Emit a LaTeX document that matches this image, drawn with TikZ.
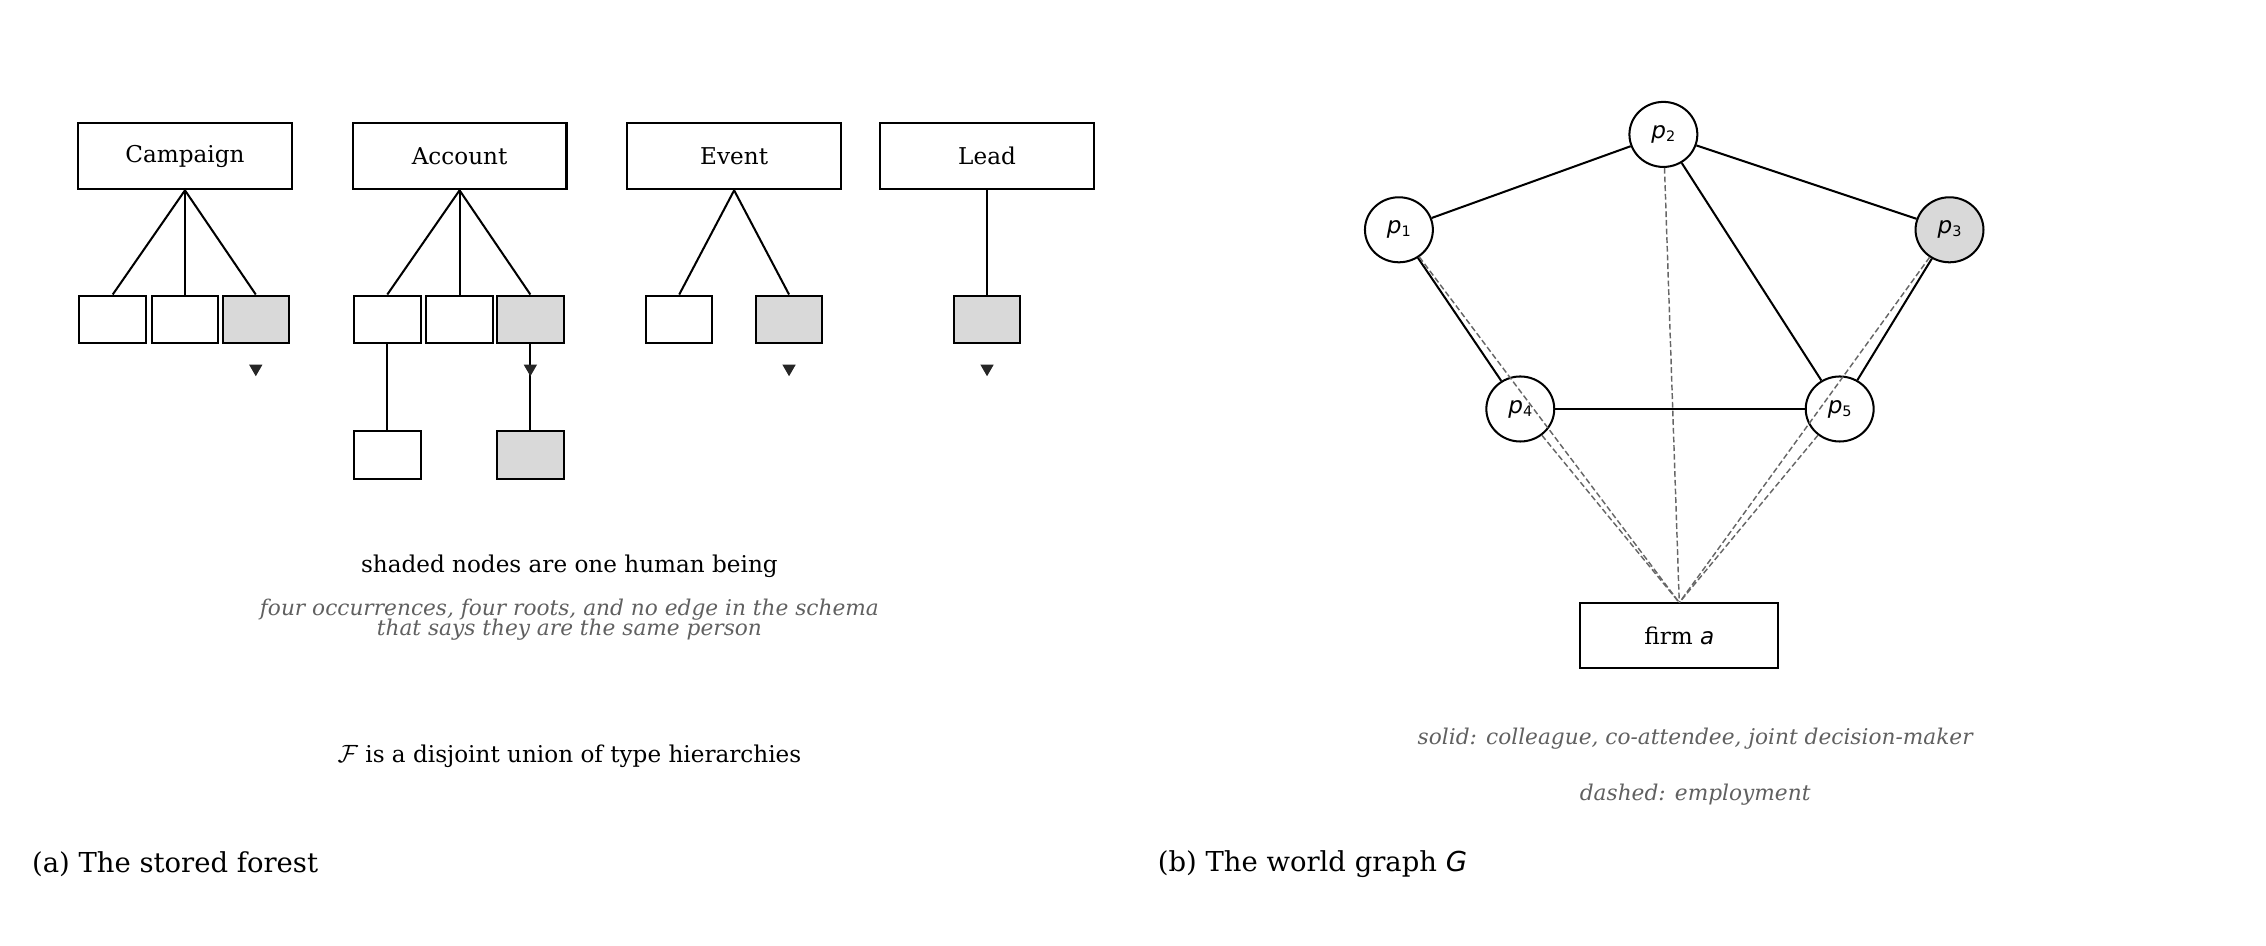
\documentclass[tikz,border=0pt]{standalone}
\usepackage{fontspec}
\setmainfont{DejaVu Serif}
\newfontfamily\mathsans{DejaVu Sans}
\usetikzlibrary{shapes.geometric}
\newcommand{\pv}[1]{{\mathsans\itshape p}\raisebox{-0.25ex}{\mathsans\fontsize{10}{10}\selectfont #1}}
\begin{document}
\begin{tikzpicture}[x=1pt,y=-1pt,
  font=\fontsize{16}{18}\selectfont,
  big/.style={draw,line width=1.4pt,minimum width=148pt,minimum height=46pt,inner sep=0},
  sm/.style={draw,line width=1.4pt,minimum width=46pt,minimum height=33pt,inner sep=0},
  sh/.style={sm,fill=gray!30},
  ln/.style={line width=1.4pt},
  tri/.style={isosceles triangle,shape border rotate=-90,fill=black!85,inner sep=0,minimum width=9pt,minimum height=8pt,isosceles triangle apex angle=60},
  pn/.style={draw,ellipse,line width=1.4pt,minimum width=47pt,minimum height=45pt,inner sep=0},
  ds/.style={dashed,gray!80!black,line width=1pt,dash pattern=on 4pt off 2pt},
  note/.style={text=gray!75!black,font=\fontsize{15}{17}\selectfont\itshape,align=center}]
\useasboundingbox (0,0) rectangle (1568,654);
\node[big] (C) at (128,108) {Campaign};
\node[big] (A) at (318,108) {Account};
\node[big] (E) at (508,108) {Event};
\node[big] (L) at (683,108) {Lead};
\node[sm] (c1) at (78,221) {}; \node[sm] (c2) at (128,221) {}; \node[sh] (c3) at (177,221) {};
\node[sm] (a1) at (268,221) {}; \node[sm] (a2) at (318,221) {}; \node[sh] (a3) at (367,221) {};
\node[sm] (e1) at (470,221) {}; \node[sh] (e2) at (546,221) {};
\node[sh] (l1) at (683,221) {};
\node[sm] (a4) at (268,315) {}; \node[sh] (a5) at (367,315) {};
\foreach \p/\c in {C/c1,C/c2,C/c3,A/a1,A/a2,A/a3,E/e1,E/e2,L/l1,a1/a4,a3/a5}
  \draw[ln] (\p.south) -- (\c.north);
\foreach \x/\n in {177/t1,367/t2,546/t3,683/t4} \node[tri] (\n) at (\x,255) {};
\node (s1) at (394,392) {shaded nodes are one human being};
\node[note,inner sep=0] (s2) at (394,429) {four occurrences, four roots, and no edge in the schema\\[-3pt]that says they are the same person};
\node (s3) at (394,523) {$\mathcal{F}$ is a disjoint union of type hierarchies};
\node[anchor=west,font=\fontsize{19}{21}\selectfont,inner sep=0] (ca) at (22,598) {(a) The stored forest};
\node[pn] (p2) at (1151,93) {\pv{2}};
\node[pn] (p1) at (968,159) {\pv{1}};
\node[pn,fill=gray!30] (p3) at (1349,159) {\pv{3}};
\node[pn] (p4) at (1052,283) {\pv{4}};
\node[pn] (p5) at (1273,283) {\pv{5}};
\node[draw,line width=1.4pt,minimum width=137pt,minimum height=45pt] (F) at (1162,440) {firm {\mathsans\itshape a}};
\coordinate (Ft) at (1162,417);
\foreach \a/\b in {p1/p2,p2/p3,p2/p5,p1/p4,p3/p5,p4/p5} \draw[ln] (\a) -- (\b);
\foreach \a in {p1,p2,p3,p4,p5} \draw[ds] (\a) -- (Ft);
\node[note] (n1) at (1173,511) {solid: colleague, co-attendee, joint decision-maker};
\node[note] (n2) at (1173,550) {dashed: employment};
\node[anchor=west,font=\fontsize{19}{21}\selectfont,inner sep=0] (cb) at (801,598) {(b) The world graph {\mathsans\itshape G}};
\end{tikzpicture}
\end{document}
